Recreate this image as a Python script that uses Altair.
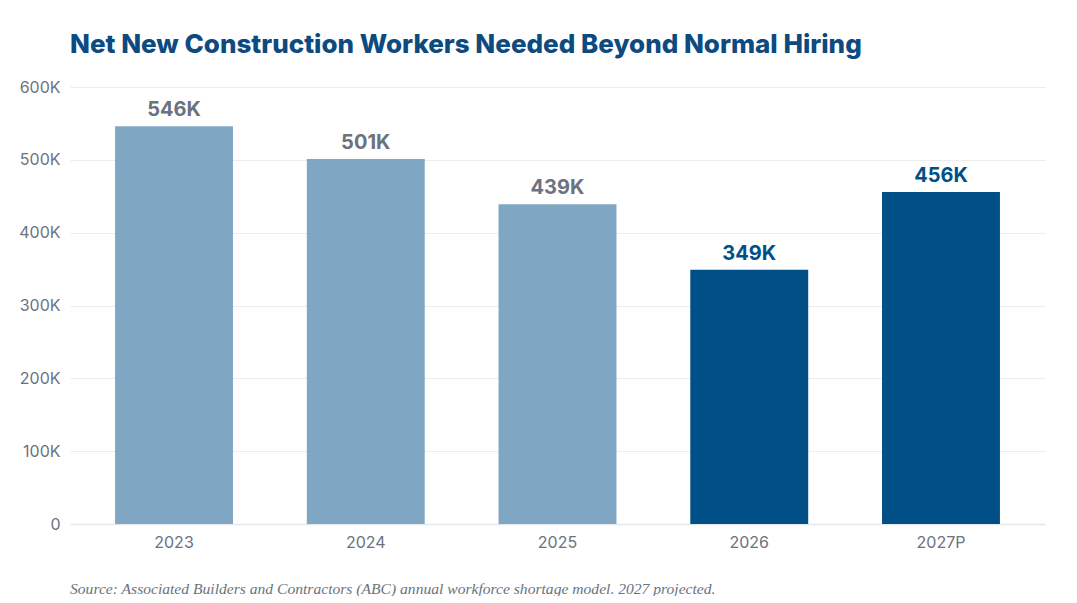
import altair as alt
import pandas as pd

# Dados
anos = ["2023", "2024", "2025", "2026", "2027P"]
trabalhadores = [546, 501, 439, 349, 456]  # milhares
grupo = ["anterior", "anterior", "anterior", "recente", "recente"]

cores_barra = {"anterior": "#7fa7c4", "recente": "#004f86"}
cores_rotulo = {"anterior": "#6b7280", "recente": "#004f86"}

dados = pd.DataFrame({
    "Ano": anos,
    "Valor": [v * 1000 for v in trabalhadores],
    "Rotulo": [f"{v}K" for v in trabalhadores],
    "CorBarra": [cores_barra[g] for g in grupo],
    "CorRotulo": [cores_rotulo[g] for g in grupo],
})

cor_eixo = "#6b7280"
fonte = "Inter"

largura = 975
altura = 437

barras = alt.Chart(dados).mark_bar().encode(
    x=alt.X("Ano:N", sort=anos, title=None,
            scale=alt.Scale(paddingInner=0.385, paddingOuter=0.235),
            axis=alt.Axis(labelAngle=0, labelFontSize=16, labelColor=cor_eixo,
                          labelFont=fonte, labelPadding=10, ticks=False,
                          domain=True, domainColor="#e5e7eb", domainWidth=1.5)),
    y=alt.Y("Valor:Q", title=None,
            scale=alt.Scale(domain=[0, 600000]),
            axis=alt.Axis(values=[0, 100000, 200000, 300000, 400000, 500000, 600000],
                          labelExpr="datum.value == 0 ? '0' : (datum.value / 1000) + 'K'",
                          labelFontSize=16, labelColor=cor_eixo, labelFont=fonte,
                          labelPadding=10, ticks=False, domain=False,
                          gridColor="#ececee", gridWidth=1)),
    color=alt.Color("CorBarra:N", scale=None),
)

# Rótulos acima das barras
rotulos = alt.Chart(dados).mark_text(
    align="center", baseline="bottom", dy=-6,
    fontSize=20, fontWeight="bold", font=fonte
).encode(
    x=alt.X("Ano:N", sort=anos),
    y=alt.Y("Valor:Q"),
    text="Rotulo:N",
    color=alt.Color("CorRotulo:N", scale=None),
)

# Nota de fonte
nota = alt.Chart(pd.DataFrame({"t": ["Source: Associated Builders and Contractors (ABC) annual workforce shortage model. 2027 projected."]})).mark_text(
    align="left", baseline="middle", fontSize=15.6, font="Liberation Serif",
    fontStyle="italic", color="#6b7280"
).encode(
    x=alt.value(0),
    y=alt.value(altura + 65),
    text="t:N",
)

chart = (barras + rotulos + nota).properties(
    width=largura,
    height=altura,
    autosize=alt.AutoSizeParams(type="none"),
    padding={"left": 62, "top": 79, "right": 24, "bottom": 72},
    title=alt.Title(
        "Net New Construction Workers Needed Beyond Normal Hiring",
        anchor="start", frame="group", fontSize=26, font=fonte, fontWeight=800,
        color="#0d4a80", offset=21,
    ),
).configure_view(
    stroke=None
)

chart.save("out.html", embed_options={"renderer": "svg", "actions": False})
